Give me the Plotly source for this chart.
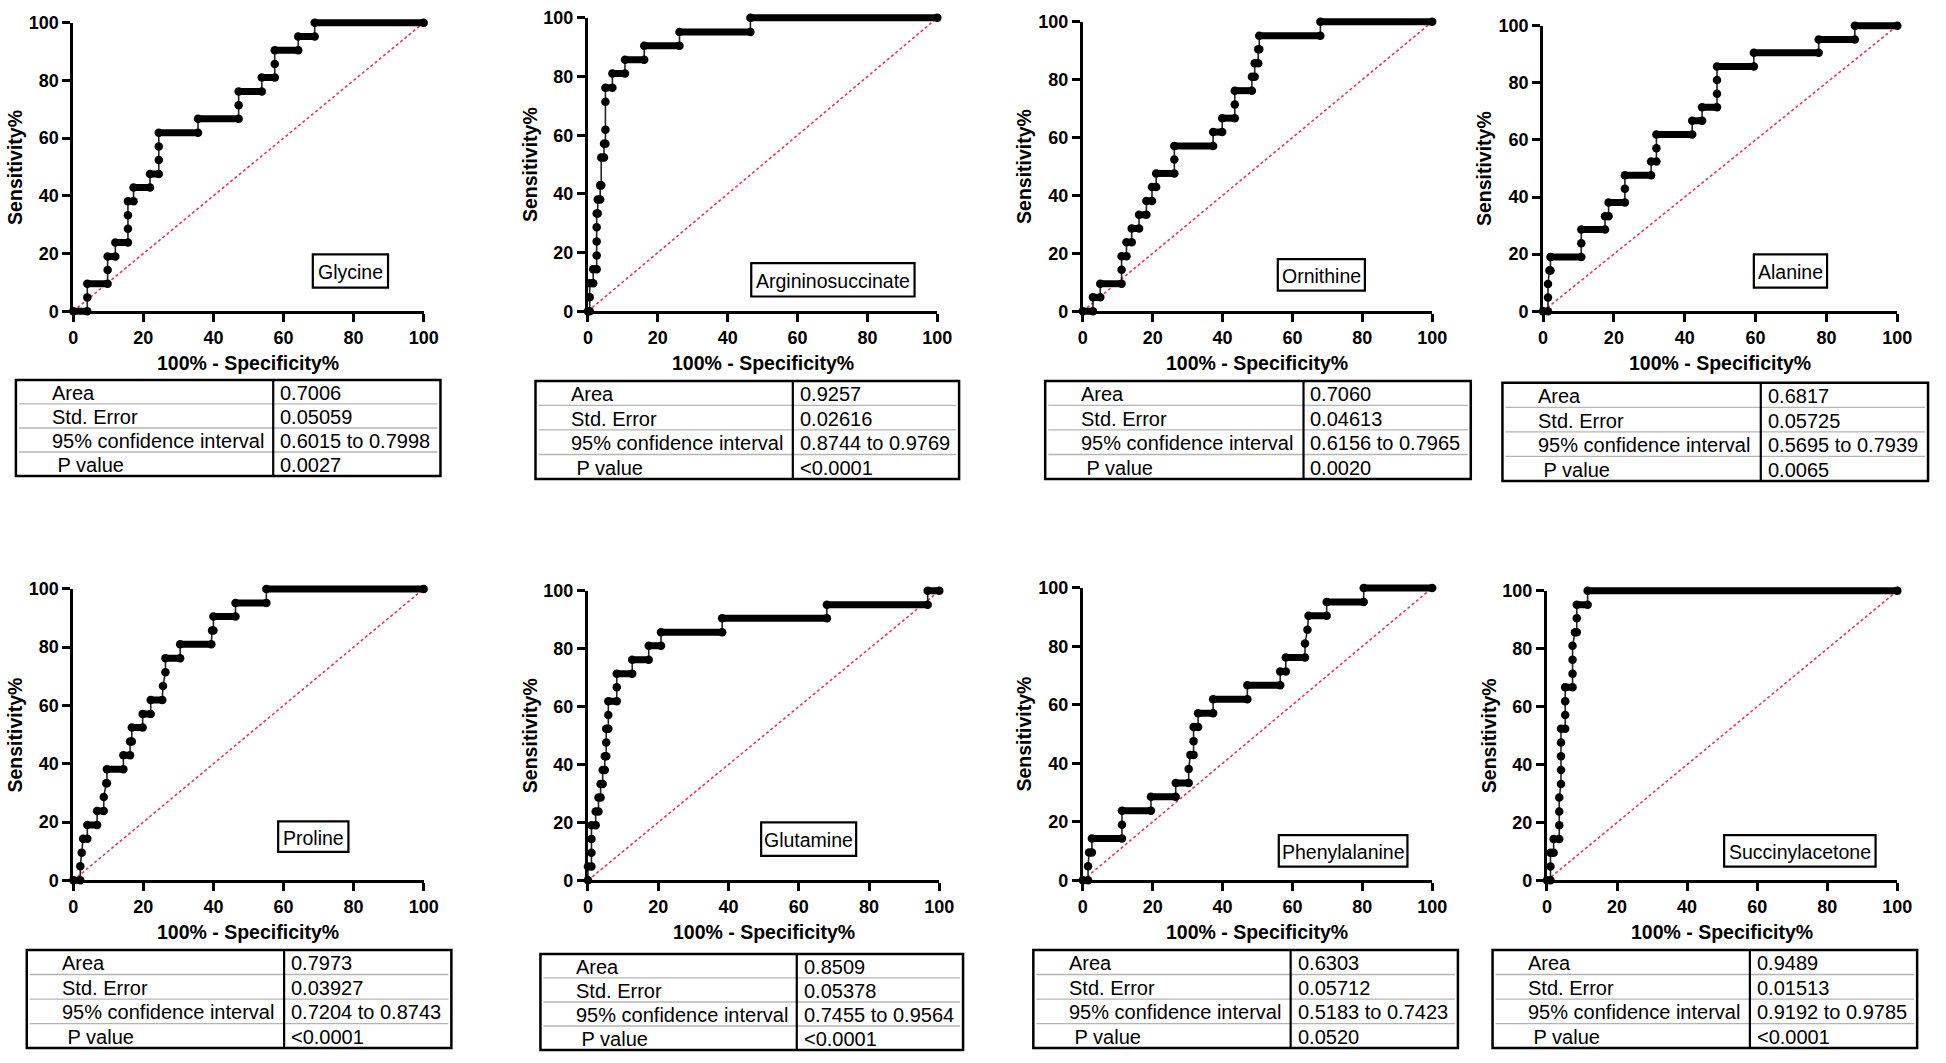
import plotly.graph_objects as go

W, H = 1946, 1063

# ---------------- data ----------------
MARKERS = ["Glycine", "Argininosuccinate", "Ornithine", "Alanine",
           "Proline", "Glutamine", "Phenylalanine", "Succinylacetone"]

# ROC vertices: x = 100% - Specificity%, y = Sensitivity%
GLY_FPR = [0, 4.0, 4.0, 4.0, 9.8, 9.8, 9.8, 12.0, 12.0, 15.6, 15.6, 15.6, 15.6, 17.2, 17.2, 21.9, 21.9,
           24.4, 24.4, 24.4, 24.4, 35.6, 35.6, 47.2, 47.2, 47.2, 53.8, 53.8, 57.5, 57.5, 57.5, 64.2, 64.2,
           68.9, 68.9, 100]
GLY_SENS = [0, 0, 4.8, 9.5, 9.5, 14.3, 19.0, 19.0, 23.8, 23.8, 28.6, 33.3, 38.1, 38.1, 42.9, 42.9, 47.6,
            47.6, 52.4, 57.1, 61.9, 61.9, 66.7, 66.7, 71.4, 76.2, 76.2, 81.0, 81.0, 85.7, 90.5, 90.5, 95.2,
            95.2, 100, 100]

ASA_FPR = [0, 0.5, 0.5, 0.5, 1.5, 1.5, 2.5, 2.5, 2.5, 2.5, 2.5, 2.8, 2.8, 3.5, 3.5, 3.8, 3.8, 4.6, 4.6,
           5.0, 5.0, 5.0, 5.0, 7.0, 7.0, 10.6, 10.6, 16.1, 16.1, 26.2, 26.2, 46.5, 46.5, 100]
ASA_SENS = [0, 0, 4.8, 9.5, 9.5, 14.3, 14.3, 19.0, 23.8, 28.6, 33.3, 33.3, 38.1, 38.1, 42.9, 42.9, 52.4,
            52.4, 57.1, 57.1, 61.9, 71.4, 76.2, 76.2, 81.0, 81.0, 85.7, 85.7, 90.5, 90.5, 95.2, 95.2, 100, 100]

ORN_FPR = [0, 2.9, 2.9, 5.0, 5.0, 11.1, 11.1, 11.1, 12.5, 12.5, 14.0, 14.0, 16.1, 16.1, 18.2, 18.2, 19.8,
           19.8, 21.0, 21.0, 26.2, 26.2, 26.2, 37.3, 37.3, 39.9, 39.9, 43.5, 43.5, 43.5, 48.4, 48.4, 49.2,
           49.2, 50.2, 50.2, 50.5, 50.5, 68.0, 68.0, 100]
ORN_SENS = [0, 0, 4.8, 4.8, 9.5, 9.5, 14.3, 19.0, 19.0, 23.8, 23.8, 28.6, 28.6, 33.3, 33.3, 38.1, 38.1,
            42.9, 42.9, 47.6, 47.6, 52.4, 57.1, 57.1, 61.9, 61.9, 66.7, 66.7, 71.4, 76.2, 76.2, 81.0, 81.0,
            85.7, 85.7, 90.5, 90.5, 95.2, 95.2, 100, 100]

ALA_FPR = [0, 1.4, 1.4, 1.4, 1.8, 2.1, 2.1, 10.8, 10.8, 10.8, 17.5, 17.5, 18.5, 18.5, 23.1, 23.1, 23.1,
           30.5, 30.5, 32.0, 32.0, 32.0, 42.1, 42.1, 44.9, 44.9, 49.1, 49.1, 49.1, 49.1, 59.5, 59.5, 77.8,
           77.8, 88.0, 88.0, 100]
ALA_SENS = [0, 0, 4.8, 9.5, 14.3, 14.3, 19.0, 19.0, 23.8, 28.6, 28.6, 33.3, 33.3, 38.1, 38.1, 42.9, 47.6,
            47.6, 52.4, 52.4, 57.1, 61.9, 61.9, 66.7, 66.7, 71.4, 71.4, 76.2, 81.0, 85.7, 85.7, 90.5, 90.5,
            95.2, 95.2, 100, 100]

PRO_FPR = [0, 2.0, 2.0, 2.4, 2.8, 4.0, 4.0, 6.8, 6.8, 8.7, 8.7, 9.4, 9.6, 9.6, 14.3, 14.3, 16.2, 16.2,
           16.7, 16.7, 19.8, 19.8, 22.1, 22.1, 25.4, 25.6, 26.3, 26.3, 30.5, 30.5, 39.4, 39.6, 40.0, 40.0,
           46.3, 46.3, 55.1, 55.1, 100]
PRO_SENS = [0, 0, 4.8, 9.5, 14.3, 14.3, 19.0, 19.0, 23.8, 23.8, 28.6, 33.3, 33.3, 38.1, 38.1, 42.9, 42.9,
            47.6, 47.6, 52.4, 52.4, 57.1, 57.1, 61.9, 61.9, 66.7, 71.4, 76.2, 76.2, 81.0, 81.0, 85.7, 85.7,
            90.5, 90.5, 95.2, 95.2, 100, 100]

GLN_FPR = [0, 0, 1.0, 1.0, 1.0, 1.0, 2.2, 2.2, 3.0, 3.0, 3.6, 3.6, 4.2, 4.2, 4.8, 4.8, 5.2, 5.2, 5.2, 5.8,
           5.8, 5.8, 8.2, 8.2, 8.2, 12.6, 12.6, 17.3, 17.3, 20.8, 20.8, 38.2, 38.2, 68.0, 68.0, 96.7, 96.7,
           100]
GLN_SENS = [0, 4.8, 4.8, 9.5, 14.3, 19.0, 19.0, 23.8, 23.8, 28.6, 28.6, 33.3, 33.3, 38.1, 38.1, 42.9,
            42.9, 47.6, 52.4, 52.4, 57.1, 61.9, 61.9, 66.7, 71.4, 71.4, 76.2, 76.2, 81.0, 81.0, 85.7, 85.7,
            90.5, 90.5, 95.2, 95.2, 100, 100]

PHE_FPR = [0, 1.5, 1.5, 1.8, 2.6, 2.6, 11.2, 11.2, 11.2, 19.5, 19.5, 26.6, 26.6, 30.3, 30.3, 30.8, 31.7,
           31.7, 31.7, 33.0, 33.0, 37.3, 37.3, 47.1, 47.1, 56.5, 56.5, 58.1, 58.1, 63.6, 63.6, 64.3, 64.6,
           69.8, 69.8, 80.4, 80.4, 100]
PHE_SENS = [0, 0, 4.8, 9.5, 9.5, 14.3, 14.3, 19.0, 23.8, 23.8, 28.6, 28.6, 33.3, 33.3, 38.1, 42.9, 42.9,
            47.6, 52.4, 52.4, 57.1, 57.1, 61.9, 61.9, 66.7, 66.7, 71.4, 71.4, 76.2, 76.2, 81.0, 85.7, 90.5,
            90.5, 95.2, 95.2, 100, 100]

SA_FPR = [0, 1.0, 1.0, 1.0, 1.9, 1.9, 3.5, 3.5, 3.5, 3.5, 4.0, 4.0, 4.0, 4.0, 4.0, 5.2, 5.2, 5.2, 5.2,
          7.3, 7.3, 7.3, 7.3, 8.0, 8.5, 8.5, 8.5, 11.6, 11.6, 100]
SA_SENS = [0, 0, 4.8, 9.5, 9.5, 14.3, 14.3, 19.0, 23.8, 28.6, 33.3, 38.1, 42.9, 47.6, 52.4, 52.4, 57.1,
           61.9, 66.7, 66.7, 71.4, 76.2, 81.0, 85.7, 85.7, 90.5, 95.2, 95.2, 100, 100]

FPR = [GLY_FPR, ASA_FPR, ORN_FPR, ALA_FPR, PRO_FPR, GLN_FPR, PHE_FPR, SA_FPR]
SENS = [GLY_SENS, ASA_SENS, ORN_SENS, ALA_SENS, PRO_SENS, GLN_SENS, PHE_SENS, SA_SENS]

AREA = ["0.7006", "0.9257", "0.7060", "0.6817", "0.7973", "0.8509", "0.6303", "0.9489"]
STD_ERROR = ["0.05059", "0.02616", "0.04613", "0.05725", "0.03927", "0.05378", "0.05712", "0.01513"]
CI_95 = ["0.6015 to 0.7998", "0.8744 to 0.9769", "0.6156 to 0.7965", "0.5695 to 0.7939",
         "0.7204 to 0.8743", "0.7455 to 0.9564", "0.5183 to 0.7423", "0.9192 to 0.9785"]
P_VALUE = ["0.0027", "<0.0001", "0.0020", "0.0065", "<0.0001", "<0.0001", "0.0520", "<0.0001"]
ROW_LABELS = ["Area", "Std. Error", "95% confidence interval", "\u00a0P value"]

TICKS = [0, 20, 40, 60, 80, 100]
DIAG = [0, 100]
X_TITLE = "100% - Specificity%"
Y_TITLE = "Sensitivity%"

# ---------------- layout (pixels) ----------------
AXES_PX = [(69, 423, 13, 307), (589, 942, 8, 307), (1089, 1442, 12, 307), (1554, 1912, 16, 307),
           (69, 423, 590, 887), (589, 944, 592, 887), (1089, 1442, 589, 887), (1558, 1912, 592, 887)]
TABLE_PX = [(11, 440, 377, 475, 271), (536, 964, 378, 478, 796), (1051, 1481, 378, 478, 1312),
            (1513, 1943, 380, 480, 1774), (22, 451, 958, 1058, 282), (541, 968, 962, 1060, 800),
            (1039, 1468, 958, 1058, 1299), (1503, 1932, 958, 1058, 1763)]
LABEL_PX = [(311, 387, 249, 283), (754, 919, 258, 292), (1286, 1374, 254, 286), (1767, 1841, 249, 283),
            (276, 347, 827, 858), (764, 860, 828, 862), (1287, 1417, 841, 873), (1737, 1890, 841, 873)]

FONT = "Liberation Sans, Arial, Helvetica, sans-serif"


def fx(p):
    return p / W


def fy(p):
    return 1 - p / H


fig = go.Figure()
layout = {}
shapes = []
annotations = []
PAD = 8

for i in range(8):
    n = i + 1
    d = i + 9
    x0, x1, yt, yb = AXES_PX[i]
    sx = "" if n == 1 else str(n)
    axis_common = dict(showline=True, linewidth=3, linecolor="black", ticks="outside", ticklen=8,
                       tickwidth=3, tickcolor="black", tickvals=TICKS, showgrid=False, zeroline=False,
                       fixedrange=True, range=[0, 100],
                       tickfont=dict(family=FONT, size=18, color="black", weight="bold"))
    layout["xaxis" + sx] = dict(domain=[fx(x0), fx(x1)], anchor="y" + sx, **axis_common)
    layout["yaxis" + sx] = dict(domain=[fy(yb), fy(yt)], anchor="x" + sx, **axis_common)

    dx = PAD * 100 / (x1 - x0)
    dy = PAD * 100 / (yb - yt)
    layout[f"xaxis{d}"] = dict(domain=[fx(x0 - PAD), fx(x1 + PAD)], range=[-dx, 100 + dx],
                               anchor=f"y{d}", visible=False, fixedrange=True)
    layout[f"yaxis{d}"] = dict(domain=[fy(yb + PAD), fy(yt - PAD)], range=[-dy, 100 + dy],
                               anchor=f"x{d}", visible=False, fixedrange=True)

    # chance line
    fig.add_trace(go.Scatter(x=DIAG, y=DIAG, mode="lines", xaxis="x" + sx, yaxis="y" + sx,
                             line=dict(color="#e2365c", width=1.6, dash="3px,2.5px"),
                             hoverinfo="skip", showlegend=False))

    fpr, sens = FPR[i], SENS[i]
    # dense horizontal runs (many tied points) drawn as thick bars
    rx, ry = [], []
    for k in range(len(fpr) - 1):
        if sens[k] == sens[k + 1] and fpr[k + 1] > fpr[k]:
            rx += [fpr[k], fpr[k + 1], None]
            ry += [sens[k], sens[k + 1], None]
    fig.add_trace(go.Scatter(x=fpr, y=sens, mode="lines", xaxis=f"x{d}", yaxis=f"y{d}",
                             line=dict(color="#222", width=1.6), hoverinfo="skip", showlegend=False))
    fig.add_trace(go.Scatter(x=rx, y=ry, mode="lines", xaxis=f"x{d}", yaxis=f"y{d}",
                             line=dict(color="black", width=7), hoverinfo="skip", showlegend=False))
    fig.add_trace(go.Scatter(x=fpr, y=sens, mode="markers", xaxis=f"x{d}", yaxis=f"y{d}",
                             marker=dict(color="black", size=8.5), name=MARKERS[i], showlegend=False))

    # axis titles
    annotations.append(dict(x=fx((x0 + x1) / 2), y=fy(yb + 53), xref="paper", yref="paper",
                            text=X_TITLE, showarrow=False, xanchor="center", yanchor="middle",
                            font=dict(family=FONT, size=19.5, color="black", weight="bold")))
    annotations.append(dict(x=fx(x0 - 59), y=fy((yt + yb) / 2), xref="paper", yref="paper",
                            text=Y_TITLE, showarrow=False, textangle=-90, xanchor="center",
                            yanchor="middle",
                            font=dict(family=FONT, size=19.5, color="black", weight="bold")))

    # marker label box
    lx0, lx1, ly0, ly1 = LABEL_PX[i]
    shapes.append(dict(type="rect", xref="paper", yref="paper", x0=fx(lx0), x1=fx(lx1),
                       y0=fy(ly1), y1=fy(ly0), line=dict(color="black", width=2.2),
                       fillcolor="white", layer="above"))
    annotations.append(dict(x=fx((lx0 + lx1) / 2), y=fy((ly0 + ly1) / 2 + 1), xref="paper",
                            yref="paper", text=MARKERS[i], showarrow=False, xanchor="center",
                            yanchor="middle", font=dict(family=FONT, size=19.5, color="black")))

    # statistics table
    tl, tr, tt, tb, tdv = TABLE_PX[i]
    rh = (tb - tt) / 4
    for r in range(1, 4):
        shapes.append(dict(type="line", xref="paper", yref="paper", x0=fx(tl + 3), x1=fx(tr - 3),
                           y0=fy(tt + r * rh), y1=fy(tt + r * rh),
                           line=dict(color="#b4b4b4", width=1.3)))
    shapes.append(dict(type="line", xref="paper", yref="paper", x0=fx(tdv), x1=fx(tdv),
                       y0=fy(tb), y1=fy(tt), line=dict(color="black", width=2.2)))
    shapes.append(dict(type="rect", xref="paper", yref="paper", x0=fx(tl), x1=fx(tr),
                       y0=fy(tb), y1=fy(tt), line=dict(color="black", width=2.5)))
    values = [AREA[i], STD_ERROR[i], CI_95[i], P_VALUE[i]]
    for r in range(4):
        cy = fy(tt + (r + 0.5) * rh + 1)
        annotations.append(dict(x=fx(tl + 34), y=cy, xref="paper", yref="paper", text=ROW_LABELS[r],
                                showarrow=False, xanchor="left", yanchor="middle",
                                font=dict(family=FONT, size=20, color="black")))
        annotations.append(dict(x=fx(tdv + 5), y=cy, xref="paper", yref="paper", text=values[r],
                                showarrow=False, xanchor="left", yanchor="middle",
                                font=dict(family=FONT, size=20, color="black")))

fig.update_layout(width=W, height=H, margin=dict(l=0, r=0, t=0, b=0),
                  paper_bgcolor="white", plot_bgcolor="rgba(0,0,0,0)",
                  showlegend=False, shapes=shapes, annotations=annotations, **layout)

fig.write_html("out.html", config={"displayModeBar": False},
               post_script="document.body.style.margin='0';document.body.style.overflow='hidden';")
